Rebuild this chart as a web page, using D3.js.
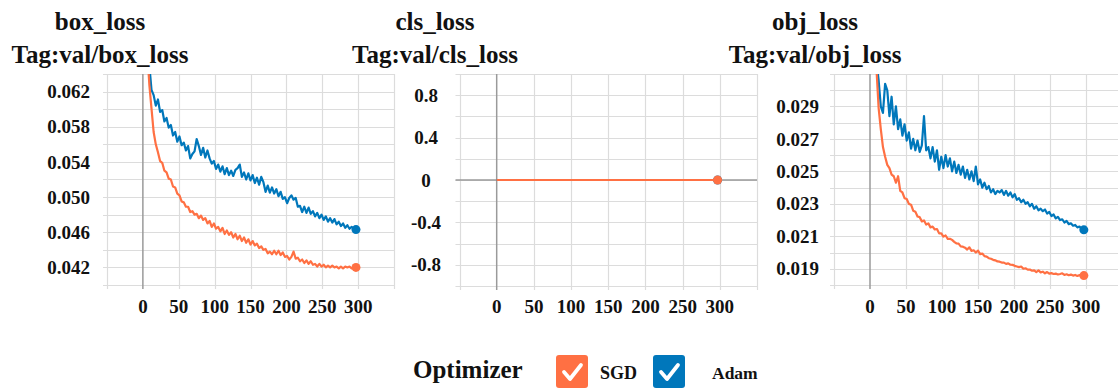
<!DOCTYPE html>
<html>
<head>
<meta charset="utf-8">
<script src="https://cdn.jsdelivr.net/npm/d3@7/dist/d3.min.js"></script>
<style>
  body { margin: 0; background: #fff; }
  svg { display: block; }
  text { font-family: "Liberation Serif", "Times New Roman", serif; font-weight: bold; fill: #111; }
</style>
</head>
<body>
<svg id="chart" width="1118" height="391"></svg>
<script>
// Validation losses, one value every EPOCH_STEP epochs (epoch = index * EPOCH_STEP)
const EPOCH_STEP = 3;
const seriesNames = ["SGD", "Adam"];
const xTickValues = [0, 50, 100, 150, 200, 250, 300];

const boxLossSGD = [
  0.0880, 0.0760, 0.0668, 0.0628, 0.0601, 0.0574, 0.0560, 0.0551, 0.0541, 0.0539,
  0.0530, 0.0528, 0.0521, 0.0520, 0.0512, 0.0511, 0.0504, 0.0502, 0.0495, 0.0494,
  0.0489, 0.0489, 0.0483, 0.0484, 0.0480, 0.0481, 0.0476, 0.0479, 0.0474, 0.0476,
  0.0470, 0.0473, 0.0466, 0.0470, 0.0464, 0.0466, 0.0461, 0.0465, 0.0458, 0.0462,
  0.0457, 0.0460, 0.0454, 0.0458, 0.0452, 0.0456, 0.0450, 0.0454, 0.0448, 0.0452,
  0.0446, 0.0450, 0.0445, 0.0447, 0.0442, 0.0444, 0.0440, 0.0441, 0.0436, 0.0438,
  0.0435, 0.0439, 0.0435, 0.0439, 0.0434, 0.0437, 0.0432, 0.0433, 0.0429, 0.0432,
  0.0438, 0.0430, 0.0431, 0.0427, 0.0429, 0.0425, 0.0428, 0.0424, 0.0427, 0.0423,
  0.0424, 0.0421, 0.0424, 0.0421, 0.0423, 0.0420, 0.0422, 0.0420, 0.0422, 0.0420,
  0.0421, 0.0419, 0.0421, 0.0419, 0.0421, 0.0420, 0.0421, 0.0419, 0.0420, 0.0420
];
const boxLossAdam = [
  0.0900, 0.0800, 0.0710, 0.0650, 0.0622, 0.0616, 0.0604, 0.0611, 0.0597, 0.0599,
  0.0586, 0.0590, 0.0579, 0.0582, 0.0570, 0.0574, 0.0563, 0.0569, 0.0559, 0.0562,
  0.0553, 0.0558, 0.0544, 0.0549, 0.0552, 0.0566, 0.0558, 0.0548, 0.0556, 0.0545,
  0.0553, 0.0544, 0.0538, 0.0541, 0.0532, 0.0537, 0.0529, 0.0535, 0.0526, 0.0533,
  0.0525, 0.0530, 0.0524, 0.0531, 0.0533, 0.0537, 0.0523, 0.0528, 0.0520, 0.0527,
  0.0519, 0.0525, 0.0516, 0.0522, 0.0514, 0.0523, 0.0517, 0.0506, 0.0513, 0.0505,
  0.0511, 0.0504, 0.0509, 0.0501, 0.0506, 0.0498, 0.0500, 0.0493, 0.0499, 0.0502,
  0.0497, 0.0499, 0.0489, 0.0490, 0.0483, 0.0489, 0.0482, 0.0488, 0.0481, 0.0484,
  0.0478, 0.0482, 0.0476, 0.0480, 0.0474, 0.0478, 0.0472, 0.0476, 0.0471, 0.0475,
  0.0469, 0.0472, 0.0467, 0.0470, 0.0465, 0.0468, 0.0464, 0.0466, 0.0464, 0.0463
];
const clsLossSGD = [
  0, 0, 0, 0, 0, 0, 0, 0, 0, 0,  0, 0, 0, 0, 0, 0, 0, 0, 0, 0,
  0, 0, 0, 0, 0, 0, 0, 0, 0, 0,  0, 0, 0, 0, 0, 0, 0, 0, 0, 0,
  0, 0, 0, 0, 0, 0, 0, 0, 0, 0,  0, 0, 0, 0, 0, 0, 0, 0, 0, 0,
  0, 0, 0, 0, 0, 0, 0, 0, 0, 0,  0, 0, 0, 0, 0, 0, 0, 0, 0, 0,
  0, 0, 0, 0, 0, 0, 0, 0, 0, 0,  0, 0, 0, 0, 0, 0, 0, 0, 0, 0
];
const clsLossAdam = [
  0, 0, 0, 0, 0, 0, 0, 0, 0, 0,  0, 0, 0, 0, 0, 0, 0, 0, 0, 0,
  0, 0, 0, 0, 0, 0, 0, 0, 0, 0,  0, 0, 0, 0, 0, 0, 0, 0, 0, 0,
  0, 0, 0, 0, 0, 0, 0, 0, 0, 0,  0, 0, 0, 0, 0, 0, 0, 0, 0, 0,
  0, 0, 0, 0, 0, 0, 0, 0, 0, 0,  0, 0, 0, 0, 0, 0, 0, 0, 0, 0,
  0, 0, 0, 0, 0, 0, 0, 0, 0, 0,  0, 0, 0, 0, 0, 0, 0, 0, 0, 0
];
const objLossSGD = [
  0.04200, 0.03700, 0.03350, 0.03130, 0.02890, 0.02760, 0.02650, 0.02590, 0.02540, 0.02520,
  0.02480, 0.02470, 0.02430, 0.02470, 0.02380, 0.02370, 0.02335, 0.02330, 0.02300, 0.02295,
  0.02258, 0.02252, 0.02222, 0.02218, 0.02192, 0.02198, 0.02172, 0.02180, 0.02155, 0.02160,
  0.02142, 0.02145, 0.02118, 0.02118, 0.02098, 0.02105, 0.02084, 0.02085, 0.02078, 0.02066,
  0.02056, 0.02055, 0.02038, 0.02036, 0.02030, 0.02018, 0.02032, 0.02010, 0.02014, 0.02000,
  0.02012, 0.01990, 0.01994, 0.01978, 0.01975, 0.01965, 0.01962, 0.01955, 0.01952, 0.01945,
  0.01944, 0.01938, 0.01938, 0.01930, 0.01933, 0.01925, 0.01924, 0.01918, 0.01914, 0.01910,
  0.01914, 0.01900, 0.01903, 0.01895, 0.01895, 0.01888, 0.01890, 0.01880, 0.01890, 0.01878,
  0.01882, 0.01872, 0.01880, 0.01870, 0.01873, 0.01868, 0.01870, 0.01865, 0.01868, 0.01872,
  0.01862, 0.01866, 0.01860, 0.01864, 0.01858, 0.01862, 0.01856, 0.01861, 0.01857, 0.01858
];
const objLossAdam = [
  0.04500, 0.03900, 0.03500, 0.03180, 0.03060, 0.02900, 0.02860, 0.03040, 0.03000, 0.02840,
  0.02960, 0.02790, 0.02900, 0.02760, 0.02820, 0.02720, 0.02790, 0.02690, 0.02740, 0.02640,
  0.02700, 0.02630, 0.02690, 0.02620, 0.02660, 0.02840, 0.02630, 0.02650, 0.02580, 0.02650,
  0.02560, 0.02630, 0.02510, 0.02590, 0.02520, 0.02600, 0.02530, 0.02580, 0.02500, 0.02560,
  0.02490, 0.02540, 0.02480, 0.02530, 0.02460, 0.02510, 0.02450, 0.02500, 0.02440, 0.02530,
  0.02420, 0.02450, 0.02400, 0.02430, 0.02390, 0.02410, 0.02370, 0.02390, 0.02360, 0.02380,
  0.02370, 0.02385, 0.02355, 0.02380, 0.02350, 0.02370, 0.02340, 0.02360, 0.02325, 0.02335,
  0.02310, 0.02325, 0.02300, 0.02310, 0.02285, 0.02300, 0.02270, 0.02285, 0.02260, 0.02270,
  0.02255, 0.02265, 0.02240, 0.02250, 0.02225, 0.02235, 0.02210, 0.02220, 0.02200, 0.02205,
  0.02185, 0.02195, 0.02175, 0.02180, 0.02165, 0.02170, 0.02155, 0.02160, 0.02145, 0.02140
];

const boxTickValues = [0.062, 0.058, 0.054, 0.050, 0.046, 0.042];
const boxTickLabels = ["0.062", "0.058", "0.054", "0.050", "0.046", "0.042"];
const clsTickValues = [0.8, 0.4, 0, -0.4, -0.8];
const clsTickLabels = ["0.8", "0.4", "0", "-0.4", "-0.8"];
const objTickValues = [0.029, 0.027, 0.025, 0.023, 0.021, 0.019];
const objTickLabels = ["0.029", "0.027", "0.025", "0.023", "0.021", "0.019"];

const COLORS = { SGD: "#ff7043", Adam: "#0077bb" };

const panels = [
  { title: "box_loss", tag: "Tag:val/box_loss", sgd: boxLossSGD, adam: boxLossAdam,
    yDomain: [0.040, 0.064], yGridStep: 0.002, ticks: boxTickValues, labels: boxTickLabels,
    left: 107, right: 394, top: 74, bottom: 285, labelX: 90, labelAnchor: "end", titleX: 100 },
  { title: "cls_loss", tag: "Tag:val/cls_loss", sgd: clsLossSGD, adam: clsLossAdam,
    yDomain: [-1, 1], yGridStep: 0.2, ticks: clsTickValues, labels: clsTickLabels,
    left: 459.5, right: 757, top: 74, bottom: 286, labelX: 426, labelAnchor: "middle", titleX: 435, zeroLine: true },
  { title: "obj_loss", tag: "Tag:val/obj_loss", sgd: objLossSGD, adam: objLossAdam,
    yDomain: [0.018, 0.031], yGridStep: 0.001, ticks: objTickValues, labels: objTickLabels,
    left: 834, right: 1122, top: 74, bottom: 285, labelX: 819, labelAnchor: "end", titleX: 815 }
];

const svg = d3.select("#chart");
const xGridValues = [-50, 0, 50, 100, 150, 200, 250, 300, 350];

panels.forEach((p, pi) => {
  const x = d3.scaleLinear().domain([-50, 350]).range([p.left, p.right]);
  const y = d3.scaleLinear().domain(p.yDomain).range([p.bottom, p.top]);
  const g = svg.append("g");

  // titles
  g.append("text").attr("x", p.titleX).attr("y", 30).attr("text-anchor", "middle")
    .style("font-size", "25px").text(p.title);
  g.append("text").attr("x", p.titleX).attr("y", 63).attr("text-anchor", "middle")
    .style("font-size", "25px").text(p.tag);

  // horizontal grid
  const nH = Math.round((p.yDomain[1] - p.yDomain[0]) / p.yGridStep);
  const hVals = d3.range(nH + 1).map(i => p.yDomain[0] + i * p.yGridStep);
  g.selectAll(".hgrid").data(hVals).join("line")
    .attr("x1", p.left - 4).attr("x2", p.right)
    .attr("y1", d => Math.round(y(d)) + 0.5).attr("y2", d => Math.round(y(d)) + 0.5)
    .attr("stroke", "#dcdcdc").attr("stroke-width", 1.2);

  // vertical grid
  g.selectAll(".vgrid").data(xGridValues.filter(v => v !== 0)).join("line")
    .attr("x1", d => Math.round(x(d)) + 0.5).attr("x2", d => Math.round(x(d)) + 0.5)
    .attr("y1", p.top).attr("y2", p.bottom + 4)
    .attr("stroke", "#dcdcdc").attr("stroke-width", 1.2);

  // zero axes
  g.append("line").attr("x1", x(0)).attr("x2", x(0)).attr("y1", p.top).attr("y2", p.bottom + 4)
    .attr("stroke", "#9a9a9a").attr("stroke-width", 1.5);
  if (p.zeroLine) {
    g.append("line").attr("x1", p.left - 4).attr("x2", p.right).attr("y1", y(0)).attr("y2", y(0))
      .attr("stroke", "#9a9a9a").attr("stroke-width", 1.5);
  }

  // y tick labels
  g.selectAll(".ylab").data(p.ticks).join("text")
    .attr("x", p.labelX).attr("y", d => y(d)).attr("dy", "0.35em")
    .attr("text-anchor", p.labelAnchor).style("font-size", "19px")
    .text((d, i) => p.labels[i]);

  // x tick labels
  g.selectAll(".xlab").data(xTickValues).join("text")
    .attr("x", d => x(d)).attr("y", 313).attr("text-anchor", "middle")
    .style("font-size", "19px").text(d => d);

  // clip region
  const clipId = "clip" + pi;
  svg.append("clipPath").attr("id", clipId).append("rect")
    .attr("x", p.left).attr("y", p.top).attr("width", p.right - p.left).attr("height", p.bottom - p.top);

  const line = d3.line().x((d, i) => x(i * EPOCH_STEP)).y(d => y(d));
  const plot = g.append("g").attr("clip-path", `url(#${clipId})`);
  [["Adam", p.adam], ["SGD", p.sgd]].forEach(([name, vals]) => {
    plot.append("path").datum(vals).attr("d", line)
      .attr("fill", "none").attr("stroke", COLORS[name]).attr("stroke-width", 2.2)
      .attr("stroke-linejoin", "round");
    const last = vals.length - 1;
    plot.append("circle").attr("cx", x(last * EPOCH_STEP)).attr("cy", y(vals[last]))
      .attr("r", 4.5).attr("fill", COLORS[name]);
  });
});

// legend
const legend = svg.append("g");
legend.append("text").attr("x", 413).attr("y", 378).style("font-size", "25px").text("Optimizer");
const legendItems = [
  { name: seriesNames[0], boxX: 556, textX: 600, size: 18 },
  { name: seriesNames[1], boxX: 653, textX: 712, size: 17.5 }
];
legendItems.forEach(it => {
  const b = legend.append("g").attr("transform", `translate(${it.boxX},355)`);
  b.append("rect").attr("width", 32).attr("height", 33).attr("rx", 3).attr("fill", COLORS[it.name]);
  b.append("path").attr("d", "M8,17 L14,24 L25,10").attr("fill", "none")
    .attr("stroke", "#fff").attr("stroke-width", 3.8).attr("stroke-linecap", "round").attr("stroke-linejoin", "round");
  legend.append("text").attr("x", it.textX).attr("y", 379).style("font-size", it.size + "px").text(it.name);
});
</script>
</body>
</html>
